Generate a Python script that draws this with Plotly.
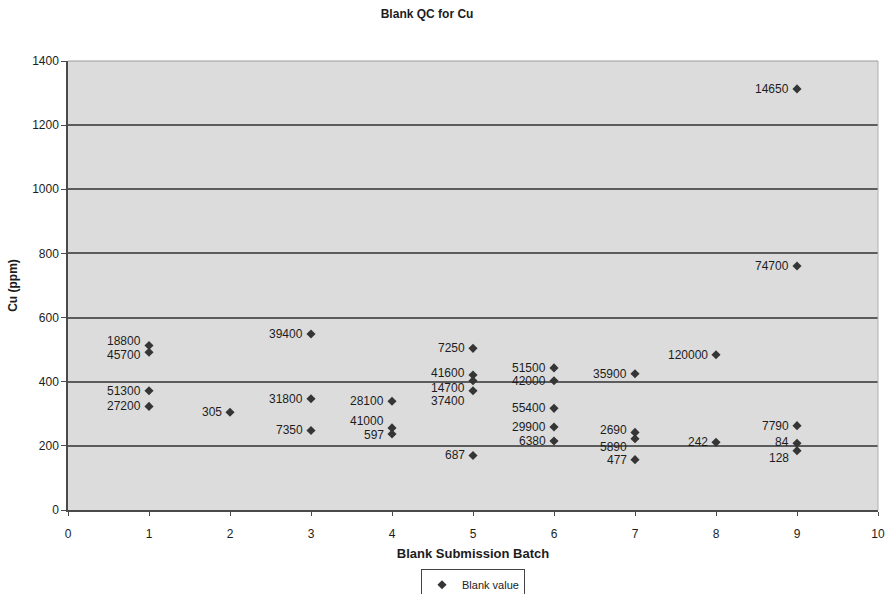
import plotly.graph_objects as go

# Blank QC results for Cu, grouped by submission batch
batch = [1, 1, 1, 1,
         2,
         3, 3, 3,
         4, 4, 4,
         5, 5, 5, 5, 5,
         6, 6, 6, 6, 6,
         7, 7, 7, 7,
         8, 8,
         9, 9, 9, 9, 9]
cu_ppm = [513, 492, 372, 323,
          305,
          549, 347, 248,
          339, 256, 237,
          504, 421, 403, 372, 170,
          443, 403, 317, 259, 215,
          425, 242, 222, 157,
          484, 211,
          1313, 761, 263, 208, 185]
sample_id = ["18800", "45700", "51300", "27200",
             "305",
             "39400", "31800", "7350",
             "28100", "41000", "597",
             "7250", "41600", "14700", "37400", "687",
             "51500", "42000", "55400", "29900", "6380",
             "35900", "2690", "5890", "477",
             "120000", "242",
             "14650", "74700", "7790", "84", "128"]

x_ticks = list(range(0, 11))
y_ticks = list(range(0, 1401, 200))

# nudges (px) for labels that would otherwise sit on top of each other
label_nudge = {"18800": 4, "45700": -3, "41600": 2, "14700": -7, "37400": -10,
               "41000": 7, "597": -1, "2690": 2, "5890": -8, "84": 1, "128": -7}

FONT = "Liberation Sans, Arial, sans-serif"
INK = "#1c1c1c"

fig = go.Figure()
fig.add_trace(go.Scatter(
    x=batch, y=cu_ppm, mode="markers", name="Blank value",
    marker=dict(symbol="diamond", size=7, color="#353535"),
))

for xb, yv, lab in zip(batch, cu_ppm, sample_id):
    fig.add_annotation(
        x=xb, y=yv, text=lab, showarrow=False,
        xanchor="right", yanchor="middle", xshift=-6,
        yshift=label_nudge.get(lab, 0),
        font=dict(family=FONT, size=12, color=INK),
    )

fig.update_layout(
    width=886, height=594,
    margin=dict(l=68, r=8, t=61, b=84, autoexpand=False),
    paper_bgcolor="white",
    plot_bgcolor="#dcdcdc",
    font=dict(family=FONT, size=12, color=INK),
    title=dict(text="<b>Blank QC for Cu</b>", x=0.482, xanchor="center",
               y=1 - 14 / 594, yanchor="middle",
               font=dict(family=FONT, size=12, color=INK)),
    showlegend=True,
    legend=dict(orientation="h", x=0.5, xanchor="center", y=-0.132, yanchor="top",
                bordercolor="#444", borderwidth=1, bgcolor="white",
                font=dict(family=FONT, size=11, color=INK),
                itemwidth=30, tracegroupgap=0),
    xaxis=dict(range=[0, 10], tickvals=x_ticks, ticktext=[str(t) for t in x_ticks],
               showgrid=False, zeroline=False,
               showline=True, linecolor="#4a4a4a", linewidth=1.5,
               ticks="outside", ticklen=4, tickcolor="#4a4a4a",
               ticklabelstandoff=8,
               tickfont=dict(family=FONT, size=12, color=INK),
               title=dict(text="<b>Blank Submission Batch</b>", standoff=9,
                          font=dict(family=FONT, size=13, color=INK))),
    yaxis=dict(range=[0, 1400], tickvals=y_ticks, ticktext=[str(t) for t in y_ticks],
               showgrid=True, gridcolor="#5c5c5c", gridwidth=1.5, zeroline=False,
               showline=True, linecolor="#4a4a4a", linewidth=1.5,
               ticks="outside", ticklen=5, tickcolor="#4a4a4a",
               tickfont=dict(family=FONT, size=12, color=INK),
               title=dict(text="<b>Cu (ppm)</b>", standoff=12,
                          font=dict(family=FONT, size=12, color=INK))),
)

# light frame on the top and right of the plot area
fig.add_shape(type="line", xref="paper", yref="paper", x0=0, x1=1, y0=1, y1=1,
              line=dict(color="#9a9a9a", width=1))
fig.add_shape(type="line", xref="paper", yref="paper", x0=1, x1=1, y0=0, y1=1,
              line=dict(color="#b0b0b0", width=1))

fig.write_html("out.html")
